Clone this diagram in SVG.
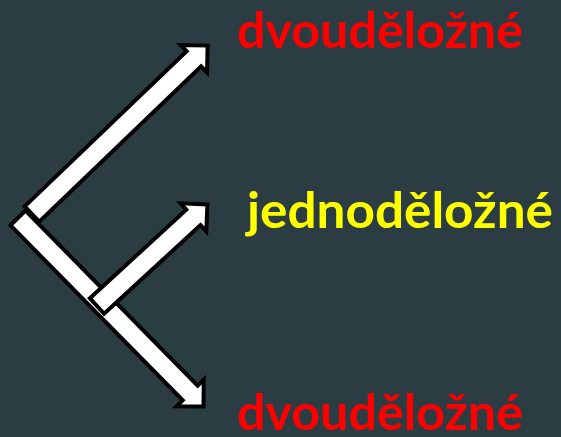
<svg xmlns="http://www.w3.org/2000/svg" width="561" height="437" viewBox="0 0 561 437">
  <style>
    .arrow { fill: #ffffff; stroke: #000000; stroke-width: 4; stroke-linejoin: miter; }
    .lbl { font-family: Lato, "Open Sans", "DejaVu Sans", sans-serif; font-weight: bold; font-size: 49px; }
    .red { fill: #ff0000; }
    .yellow { fill: #ffff00; }
  </style>
  <rect x="0" y="0" width="561" height="437" fill="#2c3c43"/>
  <g id="connectors">
    <g id="arrow-lower" transform="translate(18,218) rotate(45.46)">
      <polygon class="arrow" points="0,-10.5 245.5,-10.5 245.5,-19 264.5,0 245.5,19 245.5,10.5 0,10.5"/>
    </g>
    <g id="arrow-upper" transform="translate(32,214) rotate(-43.8)">
      <polygon class="arrow" points="0,-10.5 224.3,-10.5 224.3,-19 243.3,0 224.3,19 224.3,10.5 0,10.5"/>
    </g>
    <g id="arrow-middle" transform="translate(97,306) rotate(-42.6)">
      <polygon class="arrow" points="0,-10.5 131,-10.5 131,-19 150,0 131,19 131,10.5 0,10.5"/>
    </g>
  </g>
  <g id="node-top">
    <text class="lbl red" x="237" y="48" textLength="286" lengthAdjust="spacingAndGlyphs">dvouděložné</text>
  </g>
  <g id="node-middle">
    <text class="lbl yellow" x="247" y="228" textLength="306" lengthAdjust="spacingAndGlyphs">jednoděložné</text>
  </g>
  <g id="node-bottom">
    <text class="lbl red" x="237" y="430" textLength="286" lengthAdjust="spacingAndGlyphs">dvouděložné</text>
  </g>
</svg>
